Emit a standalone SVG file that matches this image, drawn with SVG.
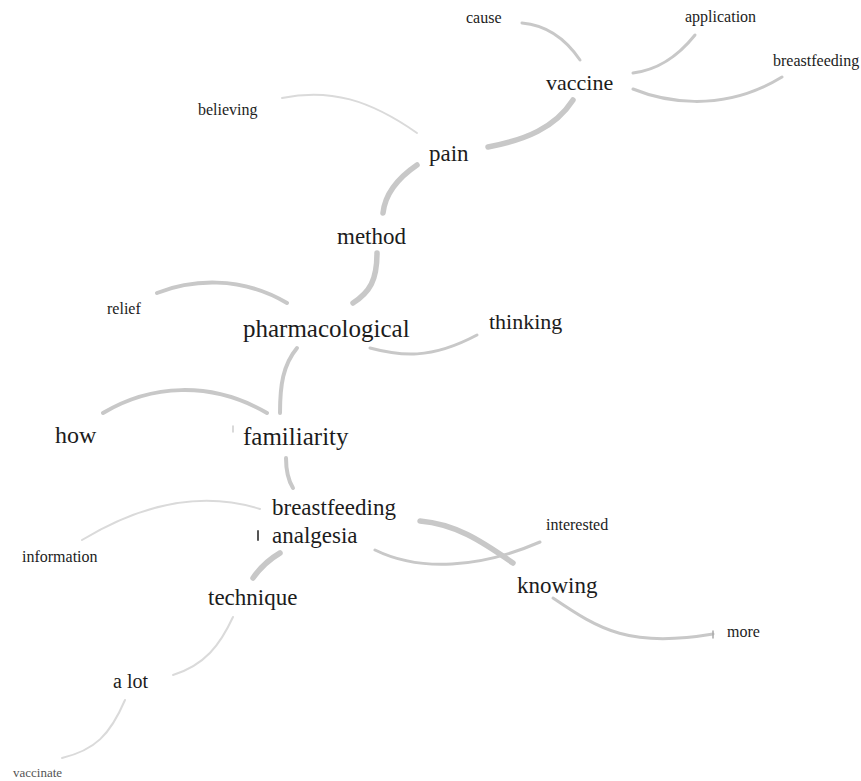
<svg xmlns="http://www.w3.org/2000/svg" width="861" height="781" viewBox="0 0 861 781">
<rect width="861" height="781" fill="#fff"/>
<g id="connectors" fill="none" stroke="#c8c8c8" stroke-linecap="round">
<g stroke-width="3">
<path d="M522,23 C545,25 565,38 580,60"/>
<path d="M695,35 C675,60 655,70 633,73"/>
<path d="M633,89 C660,100 720,115 782,77"/>
<path d="M370,348 C400,356 430,360 477,335"/>
<path d="M375,550 C420,572 480,568 540,542"/>
<path d="M553,598 C600,630 630,648 713,634"/>
</g>
<g stroke-width="5.5">
<path d="M573,100 C555,128 525,140 488,147"/>
<path d="M417,165 C395,180 385,195 383,213"/>
<path d="M377,253 C377,280 370,292 353,303"/>
<path d="M420,521 C455,524 480,540 513,563"/>
<path d="M280,553 C268,560 260,568 253,578"/>
</g>
<g stroke-width="4">
<path d="M157,293 C190,280 240,275 287,303"/>
<path d="M297,348 C283,365 280,385 280,413"/>
<path d="M103,413 C150,385 210,380 267,413"/>
<path d="M286,458 C286,470 288,480 293,488"/>
</g>
<g stroke-width="2" stroke="#dadada">
<path d="M282,98 C330,88 370,100 417,133"/>
<path d="M82,540 C140,505 200,490 260,509"/>
<path d="M233,617 C220,645 205,665 173,675"/>
<path d="M125,700 C110,735 95,750 62,758"/>
</g>
<path d="M713,631 L713,638" stroke="#aaa" stroke-width="1.5"/>
<path d="M233,426 L233,432" stroke="#ccc" stroke-width="1.5"/>
<path d="M258,531 L258,540" stroke="#555" stroke-width="2"/>
</g>
<g id="nodes" fill="#1c1c1c">
<g id="n-cause"><text style="font-family:'Liberation Serif',serif" font-size="16" x="466" y="23">cause</text></g>
<g id="n-application"><text style="font-family:'Liberation Serif',serif" font-size="16" x="685" y="22">application</text></g>
<g id="n-breastfeeding-top"><text style="font-family:'Liberation Serif',serif" font-size="16" x="773" y="66">breastfeeding</text></g>
<g id="n-vaccine"><text style="font-family:'Liberation Serif',serif" font-size="22" x="546" y="90">vaccine</text></g>
<g id="n-believing"><text style="font-family:'Liberation Serif',serif" font-size="16" x="198" y="115">believing</text></g>
<g id="n-pain"><text style="font-family:'Liberation Serif',serif" font-size="23" x="429" y="161">pain</text></g>
<g id="n-method"><text style="font-family:'Liberation Serif',serif" font-size="23" x="337" y="244">method</text></g>
<g id="n-relief"><text style="font-family:'Liberation Serif',serif" font-size="16" x="107" y="314">relief</text></g>
<g id="n-pharmacological"><text style="font-family:'Liberation Serif',serif" font-size="25" x="243" y="337">pharmacological</text></g>
<g id="n-thinking"><text style="font-family:'Liberation Serif',serif" font-size="22" x="489" y="329">thinking</text></g>
<g id="n-how"><text style="font-family:'Liberation Serif',serif" font-size="24" x="55" y="443">how</text></g>
<g id="n-familiarity"><text style="font-family:'Liberation Serif',serif" font-size="25" x="243" y="445">familiarity</text></g>
<g id="n-breastfeeding-analgesia"><text style="font-family:'Liberation Serif',serif" font-size="23" x="272" y="515">breastfeeding</text><text style="font-family:'Liberation Serif',serif" font-size="23" x="272" y="543">analgesia</text></g>
<g id="n-information"><text style="font-family:'Liberation Serif',serif" font-size="16" x="22" y="562">information</text></g>
<g id="n-interested"><text style="font-family:'Liberation Serif',serif" font-size="16" x="546" y="530">interested</text></g>
<g id="n-knowing"><text style="font-family:'Liberation Serif',serif" font-size="23" x="517" y="593">knowing</text></g>
<g id="n-technique"><text style="font-family:'Liberation Serif',serif" font-size="23" x="208" y="605">technique</text></g>
<g id="n-more"><text style="font-family:'Liberation Serif',serif" font-size="16" x="727" y="637">more</text></g>
<g id="n-alot"><text style="font-family:'Liberation Serif',serif" font-size="20" x="113" y="688">a lot</text></g>
<g id="n-vaccinate"><text style="font-family:'Liberation Serif',serif" font-size="13" x="13" y="777" fill="#555">vaccinate</text></g>
</g>
</svg>
